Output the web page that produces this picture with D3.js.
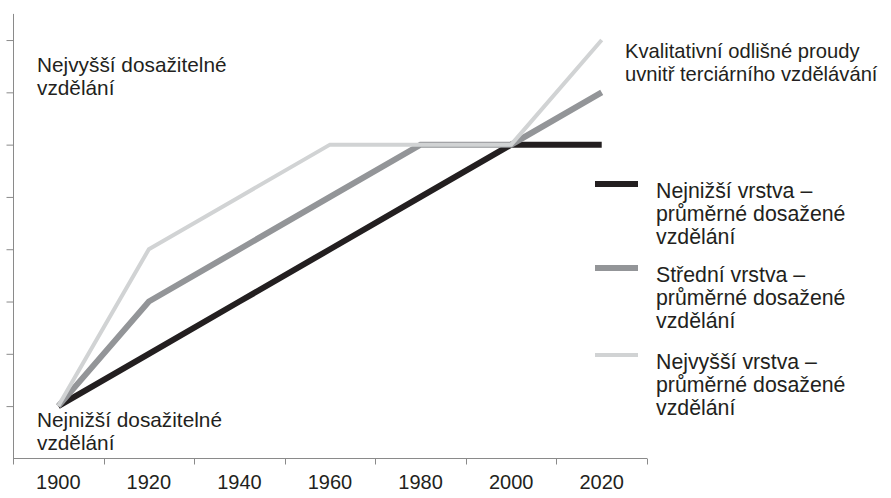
<!DOCTYPE html>
<html>
<head>
<meta charset="utf-8">
<script src="https://cdn.jsdelivr.net/npm/d3@7"></script>
<style>
  body { margin: 0; background: #fff; }
  svg { display: block; }
  text { font-family: "Liberation Sans", Arial, sans-serif; fill: #231f20; }
</style>
</head>
<body>
<svg id="chart" width="891" height="498"></svg>
<script>
const years = ["1900", "1920", "1940", "1960", "1980", "2000", "2020"];
const lowestValues = [1, 2, 3, 4, 5, 6, 6];
const middleValues = [1, 3, 4, 5, 6, 6, 7];
const highestValues = [1, 4, 5, 6, 6, 6, 8];
const yTicks = [1, 2, 3, 4, 5, 6, 7, 8];
const seriesNames = [
  ["Nejnižší vrstva –", "průměrné dosažené", "vzdělání"],
  ["Střední vrstva –", "průměrné dosažené", "vzdělání"],
  ["Nejvyšší vrstva –", "průměrné dosažené", "vzdělání"]
];
const seriesColors = ["#231f20", "#939598", "#d1d3d4"];
const seriesWidths = [6, 6, 4];

const svg = d3.select("#chart");
const x = d3.scaleBand().domain(years).range([13, 647]).padding(0);
const y = d3.scaleLinear().domain([0, 8.5]).range([458.4, 13.9]);
const axisColor = "#8a8a8a";

// x axis
svg.append("line").attr("x1", 13).attr("x2", 647).attr("y1", 458.5).attr("y2", 458.5)
  .attr("stroke", axisColor).attr("stroke-width", 1);
const bounds = years.map(d => x(d)).concat([x(years[years.length - 1]) + x.bandwidth()]);
svg.selectAll(".xtick").data(bounds).enter().append("line")
  .attr("x1", d => Math.round(d) + 0.5).attr("x2", d => Math.round(d) + 0.5)
  .attr("y1", 458.5).attr("y2", 464.5)
  .attr("stroke", axisColor).attr("stroke-width", 1);
svg.selectAll(".xlabel").data(years).enter().append("text")
  .attr("x", d => x(d) + x.bandwidth() / 2).attr("y", 489)
  .attr("text-anchor", "middle").attr("font-size", 20)
  .text(d => d);

// y axis
const yAxis = svg.append("g").attr("transform", "translate(13.5,0)")
  .call(d3.axisLeft(y).tickValues(yTicks).tickSize(7).tickFormat(""));
yAxis.select(".domain").remove();
yAxis.selectAll("line").attr("stroke", axisColor);
svg.append("line").attr("x1", 13.5).attr("x2", 13.5).attr("y1", 13.9).attr("y2", 458.5)
  .attr("stroke", axisColor).attr("stroke-width", 1);

// lines
const line = d3.line()
  .x((d, i) => x(years[i]) + x.bandwidth() / 2)
  .y(d => y(d));
[lowestValues, middleValues, highestValues].forEach((vals, k) => {
  svg.append("path").datum(vals)
    .attr("d", line)
    .attr("fill", "none")
    .attr("stroke", seriesColors[k])
    .attr("stroke-width", seriesWidths[k])
    .attr("stroke-linejoin", "miter")
    .attr("stroke-linecap", "butt");
});

// annotations
function multiText(lines, xPos, yPos, lh, fs) {
  const t = svg.append("text").attr("x", xPos).attr("y", yPos).attr("font-size", fs);
  lines.forEach((s, i) => {
    t.append("tspan").attr("x", xPos).attr("y", yPos + i * lh).text(s);
  });
}
multiText(["Nejvyšší dosažitelné", "vzdělání"], 37, 72, 23, 20.8);
multiText(["Nejnižší dosažitelné", "vzdělání"], 37, 427, 23, 20.8);
multiText(["Kvalitativní odlišné proudy", "uvnitř terciárního vzdělávání"], 625, 58, 22.5, 20.2);

// legend
const legendY = [184, 268, 355];
seriesNames.forEach((lines, k) => {
  svg.append("line")
    .attr("x1", 595).attr("x2", 638)
    .attr("y1", legendY[k]).attr("y2", legendY[k])
    .attr("stroke", seriesColors[k]).attr("stroke-width", seriesWidths[k]);
  multiText(lines, 656, legendY[k] + 14, 23, 21.3);
});
</script>
</body>
</html>
